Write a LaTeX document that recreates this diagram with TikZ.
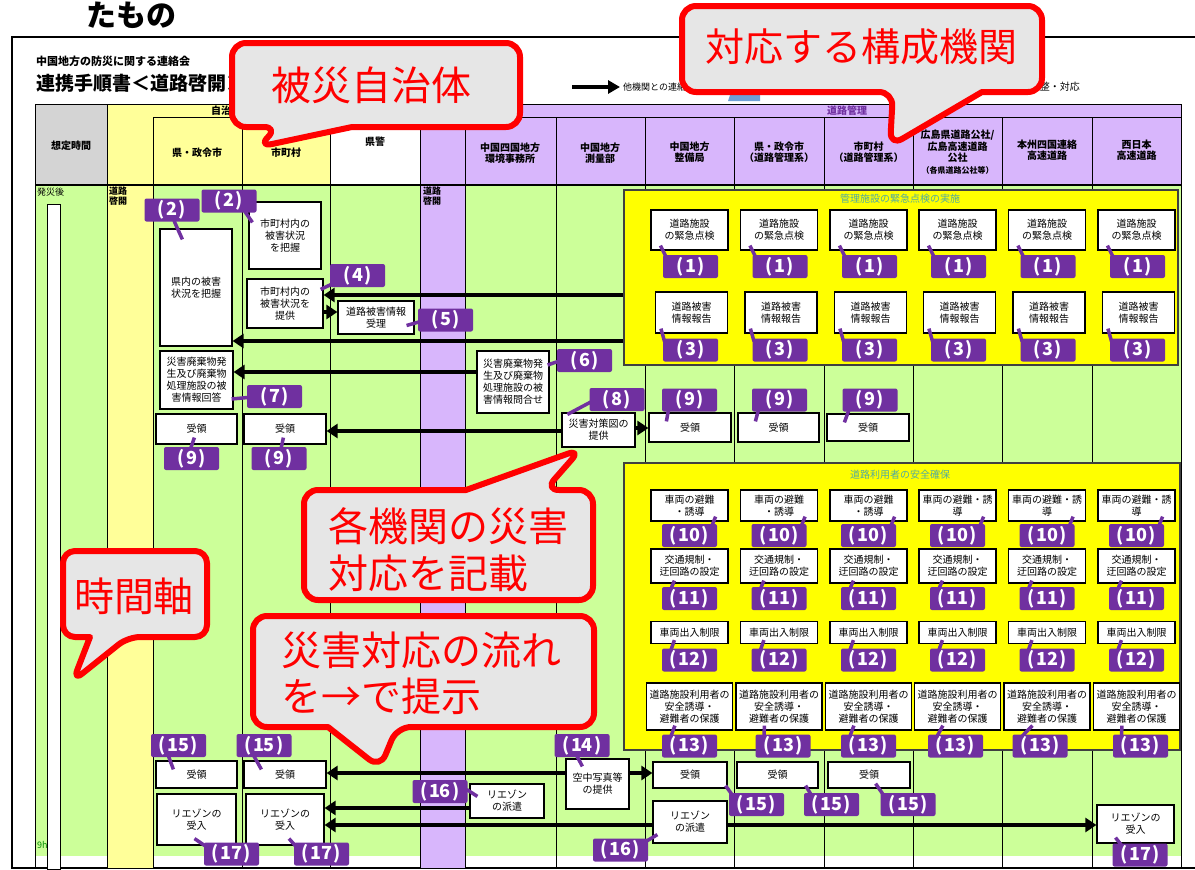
\documentclass[tikz,border=0pt]{standalone}
\usepackage{fontspec}
\setmainfont{Noto Sans CJK JP}
\usetikzlibrary{arrows.meta}
\definecolor{grn}{RGB}{204,255,153}
\definecolor{ylw}{RGB}{255,255,153}
\definecolor{prp}{RGB}{216,182,252}
\definecolor{lblc}{RGB}{112,48,160}
\definecolor{hdgray}{RGB}{212,212,212}
\definecolor{cgray}{RGB}{230,230,230}
\definecolor{cred}{RGB}{255,0,0}
\definecolor{teal2}{RGB}{80,170,160}
\definecolor{bfill}{RGB}{255,255,0}
\definecolor{legblue}{RGB}{110,160,215}
\tikzset{
 wbox/.style={draw=black, line width=1.2pt, fill=white, inner sep=0pt, align=center, font=\fontsize{10}{12}\selectfont},
 lbl/.style={fill=lblc, text=white, font=\bfseries\fontsize{18}{18}\selectfont, minimum width=55, minimum height=23, inner sep=0pt, rounded corners=2pt},
 tail/.style={draw=lblc, line width=3.5pt},
 arr/.style={line width=4.5pt, -{Triangle[length=11pt,width=14pt]}},
 callout/.style={draw=cred, line width=6pt, fill=cgray, line join=round},
 ctext/.style={text=cred, font=\fontsize{40}{40}\selectfont, inner sep=0pt},
 hdr/.style={font=\bfseries\fontsize{10}{11.5}\selectfont, align=center, inner sep=0pt},
 colline/.style={draw=black, line width=0.8pt},
 ybox/.style={draw=black!75, line width=1.2pt, fill=bfill, inner sep=0pt},
}
\newcommand\BX[6]{\node[wbox,minimum width={(#4)-(#2)},minimum height={(#5)-(#3)}] (#1) at ({((#2)+(#4))/2},{((#3)+(#5))/2}) {#6};}
\newcommand\PN[1]{(\kern1.5pt#1\kern1.5pt)}
\newcommand\LB[4]{\node[lbl] (#1) at (#2,#3) {\PN{#4}};}
\begin{document}
\begin{tikzpicture}[x=1pt,y=-1pt]
\useasboundingbox (0,0) rectangle (1195,870);
\fill[white] (0,0) rectangle (1195,870);

% top text and frame
\node[font=\bfseries\fontsize{30}{30}\selectfont, inner sep=0pt] (tamono) at (131,15) {たもの};
\draw[line width=2pt] (1197,37) -- (12,37) -- (12,868) -- (1197,868);

% title
\node[anchor=west, font=\bfseries\fontsize{11}{11}\selectfont, inner sep=0pt] (t1) at (36,61) {中国地方の防災に関する連絡会};
\node[anchor=west, font=\bfseries\fontsize{19}{19}\selectfont, inner sep=0pt] (t2) at (36,83) {連携手順書＜道路啓開＞};

% legend
\coordinate (lg1) at (572,87);
\coordinate (lg2) at (620,87);
\draw[line width=4pt, -{Triangle[length=12pt,width=13pt]}] (lg1) -- (lg2);
\node[anchor=west, font=\fontsize{9}{9}\selectfont, inner sep=0pt] (lgt) at (623,87) {他機関との連絡};
\fill[legblue] (728,101) -- (735,80) -- (760,80) -- (760,101) -- cycle;
\node[anchor=east, font=\fontsize{10}{10}\selectfont, inner sep=0pt] (lgt2) at (1080,87) {調整・対応};

% header fills
\fill[hdgray] (35,104) rectangle (107,185);
\fill[ylw] (107,104) rectangle (330,185);
\fill[prp] (420,104) rectangle (1181,185);
% body fills
\fill[grn] (35,185) rectangle (107,856);
\fill[ylw] (107,185) rectangle (153,868);
\fill[grn] (153,185) rectangle (420,856);
\fill[prp] (420,185) rectangle (465,868);
\fill[grn] (465,185) rectangle (1181,856);
\draw[fill=white, line width=0.8pt] (47,204) rectangle (60,869);

% grid lines
\draw[colline] (35,104) -- (1181,104);
\draw[colline] (153,117) -- (330,117);
\draw[colline] (465,117) -- (1181,117);
\foreach \x in {35,107,330,420,1181} \draw[colline] (\x,104) -- (\x,868);
\foreach \x in {153,242,465,556,645,734,824,913,1002,1092} \draw[colline] (\x,117) -- (\x,868);
\draw[line width=2pt] (35,185) -- (1181,185);

% header texts
\node[hdr] (h0) at (71,146) {想定時間};
\node[hdr] (hg) at (226,111) {自治体};
\node[hdr] (h1) at (197,153) {県・政令市};
\node[hdr] (h2) at (286,153) {市町村};
\node[hdr] (h3) at (375,142) {県警};
\node[hdr, text=lblc] (hr) at (847,111) {道路管理};
\node[hdr] (h4) at (510,153) {中国四国地方\\環境事務所};
\node[hdr] (h5) at (600,153) {中国地方\\測量部};
\node[hdr] (h6) at (689.5,152) {中国地方\\整備局};
\node[hdr] (h7) at (779,152) {県・政令市\\（道路管理系）};
\node[hdr] (h8) at (868.5,152) {市町村\\（道路管理系）};
\node[hdr] (h9) at (957.5,152) {広島県道路公社/\\広島高速道路\\公社\\{\fontsize{8}{10}\selectfont（各県道路公社等）}};
\node[hdr] (h10) at (1047,150) {本州四国連絡\\高速道路};
\node[hdr] (h11) at (1136.5,150) {西日本\\高速道路};

% body side labels
\node[anchor=north west, font=\fontsize{9}{9}\selectfont, inner sep=0pt] (hs) at (37,188) {発災後};
\node[anchor=north west, inner sep=0pt, align=left, font=\bfseries\fontsize{9}{10}\selectfont] (dk1) at (109,187) {道路\\啓開};
\node[anchor=north west, inner sep=0pt, align=left, font=\bfseries\fontsize{9}{10}\selectfont] (dk2) at (423,187) {道路\\啓開};
\node[anchor=west, text=green!55!black, font=\fontsize{9}{9}\selectfont, inner sep=0pt] (nine) at (37,845) {9h};

% yellow boxes
\node[ybox, minimum width=554, minimum height=175] (yb1) at (901,277.5) {};
\node[text=teal2, font=\fontsize{10}{10}\selectfont, inner sep=0pt] (yt1) at (900,199) {管理施設の緊急点検の実施};
\node[ybox, minimum width=556, minimum height=287] (yb2) at (902,606.5) {};
\node[text=teal2, font=\fontsize{10}{10}\selectfont, inner sep=0pt] (yt2) at (900,475) {道路利用者の安全確保};

% y levels for connectors
\coordinate (ya) at (0,295);
\coordinate (yb) at (0,312);
\coordinate (yc) at (0,341);
\coordinate (yd) at (0,372);
\coordinate (ye) at (0,431);
\coordinate (yf) at (0,428);
\coordinate (yg) at (0,773);
\coordinate (yh) at (0,808);
\coordinate (yi) at (0,825);

% left / middle boxes
\BX{k1}{160}{229}{232}{346}{県内の被害\\状況を把握}
\BX{m1}{249}{202}{321}{269}{市町村内の\\被害状況\\を把握}
\BX{m2}{247}{279}{323}{328}{市町村内の\\被害状況を\\提供}
\BX{p1}{338}{301}{414}{334}{道路被害情報\\受理}
\BX{k2}{160}{351}{233}{409}{災害廃棄物発\\生及び廃棄物\\処理施設の被\\害情報回答}
\BX{e1}{477}{351}{549}{413}{災害廃棄物発\\生及び廃棄物\\処理施設の被\\害情報問合せ}
\BX{s1}{562}{413}{635}{447}{災害対策図の\\提供}
\BX{k3}{156}{414}{237}{444}{受領}
\BX{m3}{244}{414}{326}{444}{受領}
\BX{g1}{649}{413}{731}{442}{受領}
\BX{g2}{738}{413}{819}{442}{受領}
\BX{g3}{827}{414}{909}{441}{受領}
\BX{k4}{156}{761}{237}{788}{受領}
\BX{m4}{244}{761}{326}{788}{受領}
\BX{s2}{566}{759}{629}{809}{空中写真等\\の提供}
\BX{g4}{653}{762}{727}{788}{受領}
\BX{g5}{737}{762}{818}{788}{受領}
\BX{g6}{828}{762}{910}{788}{受領}
\BX{e2}{470}{784}{544}{818}{リエゾン\\の派遣}
\BX{k5}{157}{794}{236}{845}{リエゾンの\\受入}
\BX{m5}{246}{794}{324}{845}{リエゾンの\\受入}
\BX{g7}{653}{801}{727}{843}{リエゾン\\の派遣}
\BX{w1}{1097}{805}{1174}{843}{リエゾンの\\受入}

% arrows
\draw[arr] (yb1.west |- ya) -- (m2.east |- ya);
\draw[arr] (m2.east |- yb) -- (p1.west |- yb);
\draw[arr] (yb1.west |- yc) -- (k1.east |- yc);
\draw[arr] (e1.west |- yd) -- (k2.east |- yd);
\draw[arr] (s1.west |- ye) -- (m3.east |- ye);
\draw[arr] (s1.east |- yf) -- (g1.west |- yf);
\draw[arr] (s2.west |- yg) -- (m4.east |- yg);
\draw[arr] (s2.east |- yg) -- (g4.west |- yg);
\draw[arr] (e2.west |- yh) -- (m5.east |- yh);
\draw[arr] (g7.west |- yi) -- (m5.east |- yi);
\draw[arr] (g7.east |- yi) -- (w1.west |- yi);

% yellow box 1 rows
\foreach \i/\cx in {1/689.5,2/779,3/868.5,4/957.5,5/1047,6/1136.5}{
  \node[wbox,minimum width=77,minimum height=40] (ins\i) at (\cx,230) {道路施設\\の緊急点検};
  \node[wbox,minimum width=72,minimum height=41] (rep\i) at (\cx+2,312.5) {道路被害\\情報報告};
  \node[lbl] (lA\i) at (\cx+1,266.5) {\PN{1}};
  \node[lbl] (lB\i) at (\cx+1,350) {\PN{3}};
  \draw[tail] ([shift={(10,-5)}]ins\i.south west) -- ([shift={(-24,3)}]lA\i.north);
  \draw[tail] ([shift={(6,-5)}]rep\i.south west) -- ([shift={(-26,3)}]lB\i.north);
}
% yellow box 2 rows
\foreach \i/\cx/\ta/\tb/\dd in {1/689.5/車両の避難/・誘導/0, 2/779/車両の避難/・誘導/4, 3/868.5/車両の避難/・誘導/0, 4/957.5/車両の避難・誘/導/-2, 5/1047/車両の避難・誘/導/-7, 6/1136.5/車両の避難・誘/導/4}{
  \node[wbox,minimum width=77,minimum height=31] (ev\i) at (\cx,505.5) {\ta\\\tb};
  \node[wbox,minimum width=77,minimum height=34] (tr\i) at (\cx,566) {交通規制・\\迂回路の設定};
  \node[wbox,minimum width=77,minimum height=22] (vr\i) at (\cx,632.5) {車両出入制限};
  \node[wbox,minimum width=86,minimum height=47] (sf\i) at (\cx,706.5) {道路施設利用者の\\安全誘導・\\避難者の保護};
  \node[lbl] (lC\i) at (\cx,535.5) {\PN{10}};
  \node[lbl] (lD\i) at (\cx,598.5) {\PN{11}};
  \node[lbl] (lE\i) at (\cx,660) {\PN{12}};
  \node[lbl] (lF\i) at (\cx+\dd,746) {\PN{13}};
  \draw[tail] ([shift={(-13,-5)}]ev\i.south east) -- ([shift={(22,3)}]lC\i.north);
  \draw[tail] ([shift={(24,-3)}]tr\i.south west) -- ([shift={(-19,3)}]lD\i.north);
  \draw[tail] ([shift={(24,-4)}]vr\i.south west) -- ([shift={(-19,3)}]lE\i.north);
  \draw[tail] ([shift={(29,-5)}]sf\i.south west) -- ([shift={(-19,3)}]lF\i.north);
}

% labels left/middle
\LB{L2a}{172}{210}{2}
\LB{L2b}{229}{201}{2}
\LB{L4}{357.5}{275.5}{4}
\LB{L5}{445.5}{320}{5}
\LB{L6}{584.5}{360.5}{6}
\LB{L7}{274.5}{396.5}{7}
\LB{L8}{617}{399.5}{8}
\LB{L9a}{689.5}{400}{9}
\LB{L9b}{779.5}{400}{9}
\LB{L9c}{870}{400}{9}
\LB{L9d}{191.5}{458.5}{9}
\LB{L9e}{279}{458.5}{9}
\LB{L15a}{178.5}{745.5}{15}
\LB{L15b}{264}{745.5}{15}
\LB{L14}{582}{745.5}{14}
\LB{L15c}{756.5}{804.5}{15}
\LB{L15d}{831.5}{804.5}{15}
\LB{L15e}{908}{804.5}{15}
\LB{L16a}{440}{791.5}{16}
\LB{L16b}{620.5}{850}{16}
\LB{L17a}{231.5}{854}{17}
\LB{L17b}{321.5}{854}{17}
\LB{L17c}{1140}{855}{17}

% label pointers
\draw[tail] ([shift={(2,-1)}]L2a.south) -- ([shift={(23,11)}]k1.north west);
\draw[tail] ([shift={(16,-1)}]L2b.south) -- ([shift={(4,21)}]m1.north west);
\draw[tail] ([shift={(4,-4)}]L4.south west) -- ([shift={(-3,11)}]m2.north east);
\draw[tail] ([shift={(1,2)}]L5.west) -- ([shift={(-8,8)}]p1.east);
\draw[tail] ([shift={(1,1)}]L6.west) -- ([shift={(-2,-17)}]e1.east);
\draw[tail] ([shift={(1,1)}]L7.west) -- ([shift={(-2,19)}]k2.east);
\draw[tail] ([shift={(3,-10)}]L8.south west) -- ([shift={(6,2)}]s1.north west);
\draw[tail] ([shift={(-21,-2)}]L9a.south) -- ([shift={(18,9)}]g1.north west);
\draw[tail] ([shift={(-21,-2)}]L9b.south) -- ([shift={(18,9)}]g2.north west);
\draw[tail] ([shift={(-21,-2)}]L9c.south) -- ([shift={(18,9)}]g3.north west);
\draw[tail] ([shift={(-1,2)}]L9d.north) -- ([shift={(39,-7)}]k3.south west);
\draw[tail] ([shift={(2,2)}]L9e.north) -- ([shift={(40,-7)}]m3.south west);
\draw[tail] ([shift={(-10,-1)}]L15a.south) -- ([shift={(18,9)}]k4.north west);
\draw[tail] ([shift={(-10,-1)}]L15b.south) -- ([shift={(18,9)}]m4.north west);
\draw[tail] ([shift={(-5,-1)}]L14.south) -- ([shift={(17,8)}]s2.north west);
\draw[tail] ([shift={(-2,-3)}]g4.south east) -- ([shift={(4,3)}]L15c.north west);
\draw[tail] ([shift={(-13,-3)}]g5.south east) -- ([shift={(8,3)}]L15d.north west);
\draw[tail] ([shift={(-35,-5)}]g6.south east) -- ([shift={(3,2)}]L15e.north west);
\draw[tail] ([shift={(-1,-2)}]L16a.east) -- ([shift={(8,13)}]e2.north west);
\draw[tail] ([shift={(-2,3)}]L16b.north east) -- ([shift={(5,-9)}]g7.south west);
\draw[tail] ([shift={(-2,-7)}]k5.south) -- ([shift={(2,4)}]L17a.north west);
\draw[tail] ([shift={(4,-7)}]m5.south) -- ([shift={(2,4)}]L17b.north west);
\draw[tail] ([shift={(-20,-6)}]w1.south) -- ([shift={(10,3)}]L17c.north west);

% callouts
\draw[callout] (232,100) [rounded corners=14pt] -- (232,127) -- (278,127) -- (258,147) [sharp corners] -- (352,127) [rounded corners=14pt] -- (520,127) -- (520,43) -- (232,43) -- cycle;
\node[ctext] (c1t) at (371,85) {被災自治体};

\draw[callout] (682,50) [rounded corners=14pt] -- (682,92) -- (893,92) -- (890,146) [sharp corners] -- (982,92) [rounded corners=14pt] -- (1042,92) -- (1042,6) -- (682,6) -- cycle;
\node[ctext, font=\fontsize{39}{39}\selectfont] (c2t) at (861,47) {対応する構成機関};

\draw[callout] (593,545) [rounded corners=14pt] -- (593,490) -- (545,490) -- (581,449) [sharp corners] -- (466,490) [rounded corners=14pt] -- (304,490) -- (304,600) -- (593,600) -- cycle;
\node[ctext, anchor=west, align=left, font=\fontsize{40}{47}\selectfont] (c3t) at (328,550) {各機関の災害\\対応を記載};

\draw[callout] (207,600) [rounded corners=12pt] -- (207,637) -- (128,637) -- (73,681) [sharp corners] -- (90,637) [rounded corners=12pt] -- (63,637) -- (63,551) -- (207,551) -- cycle;
\node[ctext] (c4t) at (134,596) {時間軸};

\draw[callout] (594,670) [rounded corners=14pt] -- (594,727) -- (397,727) -- (380,768) [sharp corners] -- (328,727) [rounded corners=14pt] -- (253,727) -- (253,616) -- (594,616) -- cycle;
\node[ctext, anchor=west, align=left, font=\fontsize{40}{46}\selectfont] (c5t) at (281,673) {災害対応の流れ\\を→で提示};
\end{tikzpicture}
\end{document}
